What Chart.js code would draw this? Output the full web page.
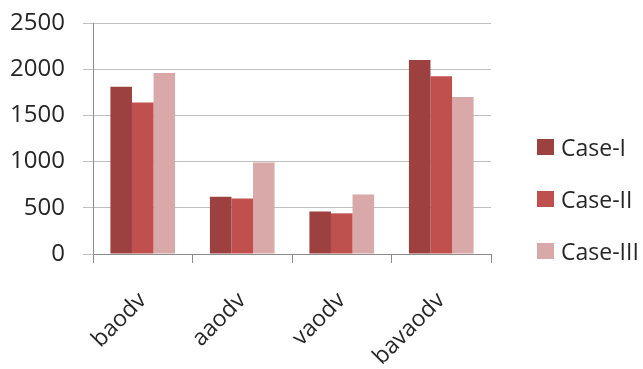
<!DOCTYPE html>
<html>
<head>
<meta charset="utf-8">
<script src="https://cdn.jsdelivr.net/npm/chart.js@4/dist/chart.umd.min.js"></script>
<style>
  html, body { margin: 0; padding: 0; background: #fff; }
  #wrap { width: 643px; height: 369px; position: relative; overflow: hidden; }
  /* 圖例:用 HTML 畫在右側,項目由 datasets 產生 */
  #legend { position: absolute; left: 537px; top: 135px; margin: 0; padding: 0; list-style: none;
            font-family: 'Open Sans', 'Liberation Sans', sans-serif; font-size: 23px; color: #262626; }
  #legend li { display: flex; align-items: center; height: 24px; margin-bottom: 28px; white-space: nowrap; }
  #legend i { display: inline-block; width: 17px; height: 16px; margin-right: 7px; }
</style>
</head>
<body>
<div id="wrap"><canvas id="c"></canvas><ul id="legend"></ul></div>
<script>
// 資料:估計值
const CATEGORIES = ['baodv', 'aaodv', 'vaodv', 'bavaodv'];
const SERIES_NAMES = ['Case-I', 'Case-II', 'Case-III'];
const CASE_1 = [1810, 620, 460, 2100];
const CASE_2 = [1640, 600, 440, 1925];
const CASE_3 = [1960, 990, 645, 1700];
const Y_TICKS = [0, 500, 1000, 1500, 2000, 2500];

const COLORS = ['#9c4140', '#c0504d', '#d9a8a8'];
const FONT = "'Open Sans', 'Liberation Sans', sans-serif";
const TEXT = '#262626';

const chart = new Chart(document.getElementById('c'), {
  type: 'bar',
  data: {
    labels: CATEGORIES,
    datasets: [CASE_1, CASE_2, CASE_3].map((d, i) => ({
      label: SERIES_NAMES[i], data: d, backgroundColor: COLORS[i],
    })),
  },
  options: {
    responsive: true, maintainAspectRatio: false,
    animation: false,
    layout: { padding: { top: 23, right: 152, left: 0, bottom: 0 } },
    datasets: { bar: { categoryPercentage: 0.65, barPercentage: 1.0 } },
    plugins: { tooltip: { enabled: false }, legend: { display: false } },
    scales: {
      x: {
        grid: { offset: true, drawOnChartArea: false, drawTicks: true, tickLength: 9, color: '#8c8c8c' },
        border: { color: '#8c8c8c' },
        ticks: { maxRotation: 45, minRotation: 45, padding: 24, color: TEXT, font: { family: FONT, size: 23 } },
        afterFit: (s) => { s.height = 115; },
      },
      y: {
        min: 0, max: 2500,
        afterBuildTicks: (s) => { s.ticks = Y_TICKS.map((v) => ({ value: v })); },
        grid: { color: '#bfbfbf', tickLength: 10 },
        border: { color: '#8c8c8c' },
        ticks: { padding: 18, color: TEXT, font: { family: FONT, size: 24 }, callback: (v) => String(v) },
        // 固定軸寬,並去掉標籤自動留白,讓繪圖區頂端由 layout.padding 決定
        afterFit: (s) => { s.width = 93; s.paddingTop = 0; s.paddingBottom = 0; },
      },
    },
  },
});

// HTML 圖例
const legend = document.getElementById('legend');
chart.data.datasets.forEach((ds) => {
  const li = document.createElement('li');
  const sw = document.createElement('i');
  sw.style.background = ds.backgroundColor;
  li.appendChild(sw);
  li.appendChild(document.createTextNode(ds.label));
  legend.appendChild(li);
});
</script>
</body>
</html>
